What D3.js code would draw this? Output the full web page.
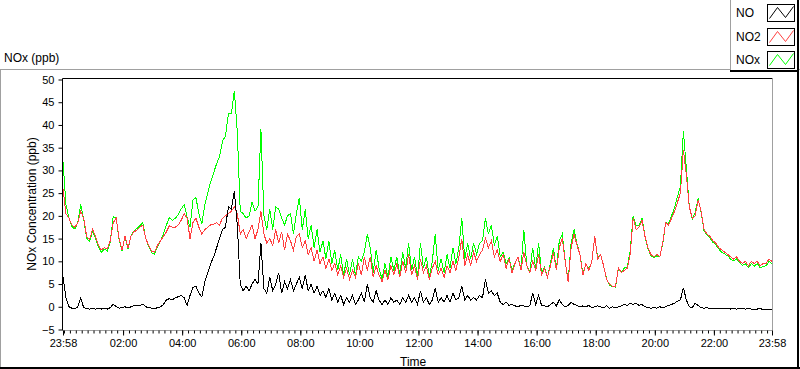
<!DOCTYPE html>
<html>
<head>
<meta charset="utf-8">
<script src="https://cdn.jsdelivr.net/npm/d3@7"></script>
<style>
  html, body { margin: 0; padding: 0; background: #fff; }
  svg { display: block; }
  text { font-family: 'Liberation Sans', Arial, sans-serif; fill: #000; }
</style>
</head>
<body>
<svg id="chart" width="800" height="369"></svg>
<script>
// ---------------- DATA ----------------
const sampleStepMin = 6;          // minutes between samples, starting at 23:58
const seriesNames = ["NO", "NO2", "NOx"];
const seriesColors = ["#000000", "#ff4040", "#00ff00"];

const no = [
 6.5,2,0,-0.3,-0.4,0,2,-0.2,-0.4,-0.5,
 -0.3,-0.5,-0.4,-0.5,-0.3,-0.5,-0.2,0.6,0,-0.3,
 -0.2,0,-0.3,0,0.2,0.4,0.3,0.6,0,-0.2,
 -0.3,-0.4,-0.2,0,0.5,1.5,1.8,1.5,2,2.2,
 2.5,2,0.3,2.5,4.3,4.5,3,2.2,5.5,7.5,
 9.5,11,13,15,17,17.5,22,21.5,25.5,18,
 5,3.5,4.5,3.5,5,6,5,14,4,3,
 6.5,3.5,5,7.5,3,5.5,4,6,3.5,5,
 6.5,4,7,3.5,5,3,4.5,2.5,3.5,2,
 4,1.5,3,1,2.5,0.5,2,1,2.5,0.5,
 1.5,3,1,5,2,1,3.5,1.5,0.5,1.5,
 0.5,2,1,1.5,0.5,2,1,2.5,1,2,
 0.5,3.5,1,2,0.5,1.5,4,1,2,1,
 2.5,1,3,1.5,2,4.5,1.5,2.5,1.5,2,
 1.5,2.5,2,6,3,3.5,2.5,3,1,0.5,
 1,0.3,0.5,0.2,0,0.3,0.2,0,0.2,3,
 0.5,2.5,0.3,0.2,0,0.5,1,0.2,1.5,0.5,
 0,0.3,1,0.5,0.3,0,0.2,0,0.3,-0.2,
 0,0.2,0,-0.2,0.2,-0.3,0,-0.2,0,0.2,
 0.5,0.3,0.8,0.5,0.8,0.3,0.5,0,-0.2,-0.3,
 -0.2,-0.3,0,-0.2,0,0.3,0.5,0.8,1.2,1.5,
 4.2,1.5,0,-0.2,0.8,0.3,-0.2,-0.3,-0.2,-0.4,
 -0.3,-0.4,-0.3,-0.5,-0.4,-0.3,-0.5,-0.4,-0.5,-0.3,
 -0.4,-0.5,-0.4,-0.5,-0.6,-0.5,-0.4,-0.6,-0.5,-0.5,
 -0.6
];

const no2 = [
 26,20.5,19.5,18,17.5,18.5,21,19.5,15.5,14.8,
 17,15.5,13.5,12.5,13,12.8,14.5,18.5,19.5,15,
 12.5,15.5,13,15.5,16.5,16.8,17.5,18,15,13.5,
 12.2,12,13.5,14.5,15.5,16.5,17.8,17.5,17.5,18,
 19,20.5,19.5,15,18.5,19.5,17.5,16,17,17.5,
 18,18.2,18.5,18,19.5,20,20.5,21,22,20.5,
 16,17,15,16.5,18,15,17,21,16,14,
 15,13.5,17,14,16.5,12.5,16,14.5,12.5,15.5,
 16,13,14.5,11.5,13,10,12.5,9.5,11,8.5,
 10.5,8,9.5,7,9,6.5,8.5,6,8,6.5,
 9.5,7,11,8,11,6.5,9,7,5.5,8,
 6,9,7,9.5,6.5,10,7.5,11.5,7,9,
 6,10.5,7.5,9,6,8.5,10,7,8.5,6.5,
 9,7.5,10,8,11,15,9,11.5,9,12,
 10,11.5,12.5,15,13,14.5,11,12.5,10,11.5,
 8.5,10.5,7.5,9.5,11,8,12,9,7.5,10,
 8,11.5,7,8.5,6.5,9,12,8,13,15,
 10,5.5,13,16,13.5,11.5,7,9.5,8,10,
 15.5,10.5,11.5,9,6,5,4.5,4.5,8.5,7.5,
 8,8.5,11.5,19.5,17,17.5,19,15.5,13,11.5,
 11,11.5,11,14,18.5,18,19.5,21,23,25,
 34.5,29,22,19.5,20,23.5,21,17,16,15.5,
 14.5,14,13,12.5,12,11.5,11,10.5,11,10,
 9.5,10,9,10,9.5,10,9,9.5,9.5,10.5,
 10
];

const nox = [
 32,22.5,19.5,17.7,17.1,18.5,22.5,19.3,15.1,14.3,
 16.7,15,13.1,12,12.7,12.3,14.3,19.8,19.5,14.7,
 12.3,15.5,12.7,15.5,16.7,17.2,17.8,18.6,15,13.3,
 11.9,11.6,13.3,14.5,16,18,19.6,19,19.5,20.2,
 21.5,22.5,19.8,17.5,23.5,24,20.5,18.2,22.5,25,
 27.5,29.5,31.5,33,36.5,37.5,42.5,42.5,47.5,38.5,
 21,20.5,19.5,20,23,21,22,39,20,17,
 21.5,17,22,21.5,19.5,18,20,20.5,16,20.5,
 24,17,21.5,15,18,13,17,12,14.5,10.5,
 14.5,9.5,12.5,8,11.5,7,10.5,7,10.5,7,
 11,10,12,16,13,7.5,12.5,8.5,6,9.5,
 6.5,11,8,11,7,12,8.5,14,8,11,
 6.5,14,8.5,11,6.5,10,16,8,10.5,7.5,
 11.5,8.5,13,9.5,13,19.5,10.5,14,10.5,14,
 11.5,14,14.5,19.5,16,18,13.5,15.5,11,12,
 9.5,10.8,8,9.7,11,8.3,16.8,9,7.7,13,
 8.5,14,7.3,8.7,6.5,9.5,13,8.2,14.5,16,
 10,5.8,14,17,13.8,11.5,7.2,9.5,8.3,9.8,
 15.5,10.7,11.5,8.8,6.2,4.7,4.5,4.3,8.5,7.7,
 8.5,8.8,12.3,20,17.8,17.8,19.5,15.5,12.8,11.2,
 10.8,11.2,11,13.8,18.5,18.3,20,21.8,24.2,26.5,
 38.7,30.5,22,19.3,20.8,23.8,20.8,16.7,15.8,15.1,
 14.2,13.6,12.7,12,11.6,11.2,10.5,10.1,10.5,9.7,
 9.1,9.5,8.6,9.5,8.9,9.5,8.6,8.9,9,10,
 9.4
];

const yTicks = [-5,0,5,10,15,20,25,30,35,40,45,50];
const xTickMinutes = [0,122,242,362,482,602,722,842,962,1082,1202,1322,1440];
const xTickLabels = ["23:58","02:00","04:00","06:00","08:00","10:00","12:00","14:00","16:00","18:00","20:00","22:00","23:58"];
const minorTickStepMin = 12;
const chartTitle = "NOx (ppb)";
const yTitle = "NOx Concentration (ppb)";
const xTitle = "Time";

// ---------------- DRAW ----------------
const svg = d3.select("#chart");
const W = 800, H = 369;
const plot = {left: 62.5, right: 772.5, top: 78.5, bottom: 330.5};

const x = d3.scaleLinear().domain([0, 1440]).range([63, 772]);
const y = d3.scaleLinear().domain([-5, 50]).range([329.5, 79.5]);

// outer panel
svg.append("line").attr("x1",0).attr("x2",W).attr("y1",69.5).attr("y2",69.5).attr("stroke","#a0a0a0");
svg.append("line").attr("x1",0.5).attr("x2",0.5).attr("y1",69).attr("y2",H).attr("stroke","#a0a0a0");
svg.append("line").attr("x1",798).attr("x2",798).attr("y1",69).attr("y2",H).attr("stroke","#000").attr("stroke-width",2);
svg.append("line").attr("x1",0).attr("x2",W).attr("y1",368).attr("y2",368).attr("stroke","#000").attr("stroke-width",2);

// title
svg.append("text").attr("x",4).attr("y",62).attr("font-size",12).text(chartTitle);

// plot background
svg.append("rect").attr("x",plot.left).attr("y",plot.top)
  .attr("width",plot.right-plot.left).attr("height",plot.bottom-plot.top).attr("fill","#fff");

svg.append("defs").append("clipPath").attr("id","clip")
  .append("rect").attr("x",plot.left).attr("y",plot.top)
  .attr("width",plot.right-plot.left).attr("height",plot.bottom-plot.top);

const times = no.map((_, i) => i * sampleStepMin);
const line = d3.line().x((d,i) => x(times[i])).y(d => y(d)).curve(d3.curveLinear);

const g = svg.append("g").attr("clip-path","url(#clip)");
// draw order: NOx, NO2, NO
[[nox,2],[no2,1],[no,0]].forEach(([arr, k]) => {
  g.append("path").datum(arr).attr("d", line)
    .attr("fill","none").attr("stroke", seriesColors[k]).attr("stroke-width",1)
    .attr("shape-rendering","crispEdges");
});

// plot frame
svg.append("line").attr("x1",plot.left).attr("x2",plot.right).attr("y1",plot.top).attr("y2",plot.top).attr("stroke","#000");
svg.append("line").attr("x1",plot.left).attr("x2",plot.left).attr("y1",plot.top).attr("y2",plot.bottom).attr("stroke","#000");
svg.append("line").attr("x1",plot.right).attr("x2",plot.right).attr("y1",plot.top).attr("y2",plot.bottom).attr("stroke","#a0a0a0");
svg.append("line").attr("x1",plot.left).attr("x2",plot.right).attr("y1",plot.bottom).attr("y2",plot.bottom).attr("stroke","#a0a0a0");

// Y axis
const yAxis = d3.axisLeft(y).tickValues(yTicks).tickSize(4).tickPadding(4);
const yg = svg.append("g").attr("transform",`translate(${plot.left},0)`).call(yAxis);
yg.select(".domain").remove();
yg.selectAll("line").attr("stroke","#000");
yg.selectAll("text").attr("font-size",11).style("font-family","'Liberation Sans', Arial, sans-serif").attr("fill","#000");

// X axis minor ticks
const minorTicks = d3.range(2, 1440, minorTickStepMin);
const xMinor = d3.axisBottom(x).tickValues(minorTicks).tickSize(3).tickFormat("");
const xmg = svg.append("g").attr("transform",`translate(0,${plot.bottom})`).call(xMinor);
xmg.select(".domain").remove();
xmg.selectAll("line").attr("stroke","#000");

// X axis major ticks
const xAxis = d3.axisBottom(x).tickValues(xTickMinutes).tickSize(5).tickPadding(4)
  .tickFormat((d,i) => xTickLabels[i]);
const xg = svg.append("g").attr("transform",`translate(0,${plot.bottom})`).call(xAxis);
xg.select(".domain").remove();
xg.selectAll("line").attr("stroke","#000");
xg.selectAll("text").attr("font-size",11).style("font-family","'Liberation Sans', Arial, sans-serif").attr("fill","#000");

// axis titles
svg.append("text").attr("transform","translate(36,204) rotate(-90)")
  .attr("text-anchor","middle").attr("font-size",12).text(yTitle);
svg.append("text").attr("x",400).attr("y",366).attr("font-size",12).text(xTitle);

// legend
const lg = svg.append("g");
lg.append("rect").attr("x",730.5).attr("y",-1).attr("width",68).attr("height",72)
  .attr("fill","#fff").attr("stroke","#a0a0a0");
lg.append("line").attr("x1",798).attr("x2",798).attr("y1",0).attr("y2",72).attr("stroke","#000").attr("stroke-width",2);
lg.append("line").attr("x1",730).attr("x2",799).attr("y1",71).attr("y2",71).attr("stroke","#000").attr("stroke-width",2);
const legendRowsY = [4, 28, 51];
const zig = [[2,14],[10,3],[18,13],[26,2]];
seriesNames.forEach((name, k) => {
  const y0 = legendRowsY[k];
  lg.append("text").attr("x",736).attr("y",y0+13).attr("font-size",12).text(name);
  lg.append("rect").attr("x",767.5).attr("y",y0+0.5).attr("width",27).attr("height",17)
    .attr("fill","#fff").attr("stroke","#000");
  lg.append("path").attr("d", d3.line()(zig.map(p => [767.5+p[0], y0+0.5+p[1]])))
    .attr("fill","none").attr("stroke",seriesColors[k]).attr("stroke-width",1);
});
</script>
</body>
</html>
